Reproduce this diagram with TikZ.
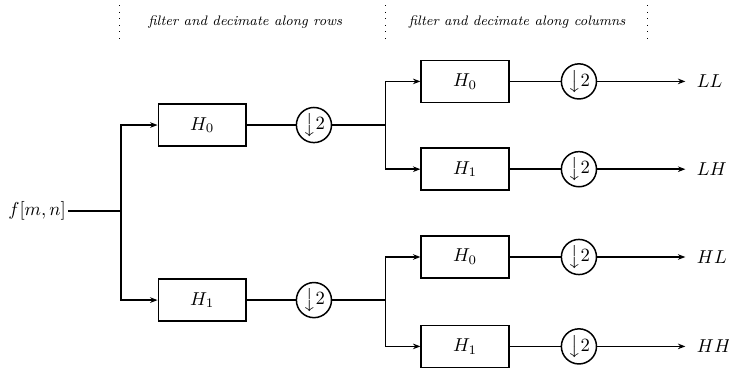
\documentclass[tikz,border=0pt]{standalone}
\usetikzlibrary{arrows.meta}
\begin{document}
\begin{tikzpicture}[>={Stealth[length=4pt,width=3pt]},
    filt/.style={draw, thick, minimum width=1.65cm, minimum height=0.79cm},
    down/.style={draw, thick, circle, minimum size=0.66cm, inner sep=0pt},
    wire/.style={thick},
    outlbl/.style={anchor=west, inner xsep=6pt},
    heading/.style={font=\footnotesize\itshape, scale=0.92},
    sepline/.style={dash pattern=on 0.5pt off 3pt}]
  \useasboundingbox (0,0) rectangle (13.70,6.94);
  %%% stage separators and headings
  \draw[sepline] (2.24,6.84) -- (2.24,6.18);
  \draw[sepline] (7.24,6.84) -- (7.24,6.18);
  \draw[sepline] (12.16,6.84) -- (12.16,6.18);
  \node[heading] (rows) at (4.61,6.52) {filter and decimate along rows};
  \node[heading] (cols) at (9.72,6.52) {filter and decimate along columns};
  %%% input
  \node[anchor=east, inner sep=1pt] (in) at (1.28,2.97) {$f[m,n]$};
  \coordinate (sp) at (2.27,2.97);
  %%% first stage (rows)
  \node[filt] (ha0) at (3.80,4.59) {$H_0$};
  \node[filt] (ha1) at (3.80,1.30) {$H_1$};
  \node[down] (da0) at (5.90,4.59) {$\big\downarrow 2$};
  \node[down] (da1) at (5.90,1.30) {$\big\downarrow 2$};
  \coordinate (sp0) at (7.24,4.59);
  \coordinate (sp1) at (7.24,1.30);
  %%% second stage (columns)
  \node[filt] (h00) at (8.74,5.41) {$H_0$};
  \node[filt] (h01) at (8.74,3.76) {$H_1$};
  \node[filt] (h10) at (8.74,2.11) {$H_0$};
  \node[filt] (h11) at (8.74,0.43) {$H_1$};
  \node[down] (d00) at (10.88,5.41) {$\big\downarrow 2$};
  \node[down] (d01) at (10.88,3.76) {$\big\downarrow 2$};
  \node[down] (d10) at (10.88,2.11) {$\big\downarrow 2$};
  \node[down] (d11) at (10.88,0.43) {$\big\downarrow 2$};
  \node[outlbl] (ll) at (12.88,5.41) {$LL$};
  \node[outlbl] (lh) at (12.88,3.76) {$LH$};
  \node[outlbl] (hl) at (12.88,2.11) {$HL$};
  \node[outlbl] (hh) at (12.88,0.43) {$HH$};
  %%% connections
  \draw[wire] (in) -- (sp);
  \draw[wire,->] (sp) |- (ha0);
  \draw[wire,->] (sp) |- (ha1);
  \draw[wire] (ha0) -- (da0) -- (sp0);
  \draw[wire] (ha1) -- (da1) -- (sp1);
  \draw[wire,->] (sp0) |- (h00);
  \draw[wire,->] (sp0) |- (h01);
  \draw[wire,->] (sp1) |- (h10);
  \draw[wire,->] (sp1) |- (h11);
  \draw[wire] (h00) -- (d00);
  \draw[wire] (h01) -- (d01);
  \draw[wire] (h10) -- (d10);
  \draw[wire] (h11) -- (d11);
  \draw[wire,->] (d00) -- (ll);
  \draw[wire,->] (d01) -- (lh);
  \draw[wire,->] (d10) -- (hl);
  \draw[wire,->] (d11) -- (hh);
\end{tikzpicture}
\end{document}
